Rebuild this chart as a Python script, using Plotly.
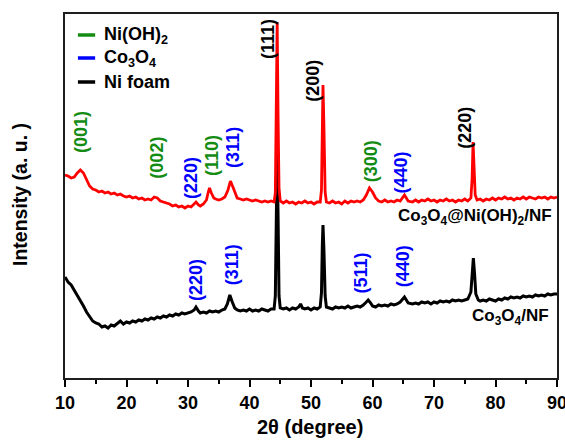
import plotly.graph_objects as go

# ---------------- data (intensity in arbitrary units) ----------------
red_x = [10.0, 10.5, 11.0, 11.5, 12.0, 12.5, 13.0, 13.5, 14.0, 14.5,
         15.0, 15.5, 16.0, 16.5, 17.0, 17.5, 18.0, 18.5, 19.0, 19.5,
         20.0, 20.5, 21.0, 21.5, 22.0, 22.5, 23.0, 23.5, 24.0, 24.5,
         25.0, 25.5, 26.0, 26.5, 27.0, 27.5, 28.0, 28.5, 29.0, 29.5,
         30.0, 30.5, 31.0, 31.3, 31.7, 32.0, 32.5, 33.0, 33.3, 33.5,
         33.8, 34.2, 34.5, 35.0, 35.5, 36.0, 36.5, 36.9, 37.3, 37.8,
         38.0, 38.5, 39.0, 39.5, 40.0, 40.5, 41.0, 41.5, 42.0, 42.5,
         43.0, 43.5, 44.0, 44.2, 44.35, 44.5, 44.65, 44.8,
         45.0, 45.5, 46.0, 46.5, 47.0, 47.5, 48.0, 48.5, 49.0, 49.5,
         50.0, 50.5, 51.0, 51.5, 51.7, 51.85, 51.95, 52.1, 52.3, 52.5,
         53.0, 53.5, 54.0, 54.5, 55.0, 55.5, 56.0, 56.5, 57.0, 57.5,
         58.0, 58.5, 59.0, 59.5, 60.0, 60.5, 61.0, 61.5, 62.0, 62.5,
         63.0, 63.5, 64.0, 64.5, 65.2, 65.8, 66.5, 67.0, 67.5, 68.0,
         68.5, 69.0, 69.5, 70.0, 70.5, 71.0, 71.5, 72.0, 72.5, 73.0,
         73.5, 74.0, 74.5, 75.0, 75.5, 76.0, 76.2, 76.35, 76.5, 76.7,
         77.0, 77.5, 78.0, 78.5, 79.0, 79.5, 80.0, 80.5, 81.0, 81.5,
         82.0, 82.5, 83.0, 83.5, 84.0, 84.5, 85.0, 85.5, 86.0, 86.5,
         87.0, 87.5, 88.0, 88.5, 89.0, 89.5, 90.0]
red_y = [203, 202, 200, 201, 205, 208, 205, 198, 192, 189,
         188, 186, 187, 185, 186, 184, 185, 183, 184, 182,
         181, 182, 180, 181, 179, 180, 178, 179, 178, 181,
         180, 177, 176, 175, 174, 172, 173, 171, 172, 170,
         172, 171, 174, 176, 173, 172, 174, 178, 186, 190,
         185, 180, 179, 178, 179, 181, 188, 197, 191, 182,
         180, 179, 178, 179, 178, 177, 178, 177, 176, 177,
         176, 177, 176, 185, 260, 356, 260, 190,
         177, 175, 177, 175, 176, 174, 176, 175, 177, 175,
         176, 174, 176, 176, 188, 262, 293, 252, 186, 176,
         175, 177, 175, 176, 174, 177, 175, 177, 176, 177,
         176, 178, 183, 190, 186, 180, 177, 176, 178, 176,
         177, 176, 178, 177, 183, 177, 176, 178, 176, 178,
         177, 179, 177, 178, 176, 178, 177, 179, 177, 178,
         176, 178, 177, 179, 177, 180, 200, 236, 214, 183,
         178, 179, 177, 179, 178, 180, 178, 180, 179, 181,
         179, 180, 178, 180, 179, 181, 179, 181, 180, 179,
         181, 180, 181, 179, 181, 180, 181]

black_x = [10.0, 10.5, 11.0, 11.5, 12.0, 12.5, 13.0, 13.5, 14.0, 14.5,
           15.0, 15.5, 16.0, 16.5, 17.0, 17.5, 18.0, 18.5, 19.0, 19.5,
           20.0, 20.5, 21.0, 21.5, 22.0, 22.5, 23.0, 23.5, 24.0, 24.5,
           25.0, 25.5, 26.0, 26.5, 27.0, 27.5, 28.0, 28.5, 29.0, 29.5,
           30.0, 30.5, 31.0, 31.3, 31.7, 32.0, 32.5, 33.0, 33.5, 34.0,
           34.5, 35.0, 35.5, 36.0, 36.4, 36.8, 37.2, 37.6, 38.0, 38.5,
           39.0, 39.5, 40.0, 40.5, 41.0, 41.5, 42.0, 42.5, 43.0, 43.5,
           44.0, 44.2, 44.35, 44.5, 44.65, 44.8,
           45.0, 45.5, 46.0, 46.5, 47.0, 47.5, 48.0, 48.3, 48.6, 49.0,
           49.5, 50.0, 50.5, 51.0, 51.5, 51.7, 51.85, 51.95, 52.1, 52.3,
           52.5, 53.0, 53.5, 54.0, 54.5, 55.0, 55.5, 56.0, 56.5, 57.0,
           57.5, 58.0, 58.5, 59.0, 59.3, 59.7, 60.0, 60.5, 61.0, 61.5,
           62.0, 62.5, 63.0, 63.5, 64.0, 64.5, 65.2, 65.8, 66.5, 67.0,
           67.5, 68.0, 68.5, 69.0, 69.5, 70.0, 70.5, 71.0, 71.5, 72.0,
           72.5, 73.0, 73.5, 74.0, 74.5, 75.0, 75.5, 76.0, 76.2, 76.4,
           76.6, 76.8, 77.2, 77.5, 78.0, 78.5, 79.0, 79.5, 80.0, 80.5,
           81.0, 81.5, 82.0, 82.5, 83.0, 83.5, 84.0, 84.5, 85.0, 85.5,
           86.0, 86.5, 87.0, 87.5, 88.0, 88.5, 89.0, 89.5, 90.0]
black_y = [101, 96, 93, 88, 83, 77, 72, 66, 61, 57,
           55, 54, 51, 52, 50, 53, 52, 55, 57, 54,
           56, 55, 57, 56, 58, 57, 59, 58, 60, 59,
           61, 60, 62, 61, 63, 62, 64, 63, 65, 64,
           65, 66, 68, 71, 67, 65, 66, 65, 67, 66,
           67, 66, 68, 69, 74, 83, 76, 70, 68, 67,
           68, 67, 69, 67, 68, 67, 69, 68, 67, 69,
           69, 82, 165, 228, 160, 82,
           70, 69, 70, 68, 70, 69, 71, 74, 70, 69,
           70, 68, 70, 69, 71, 85, 135, 153, 128, 82,
           71, 70, 69, 71, 70, 71, 70, 72, 70, 71,
           72, 71, 73, 76, 78, 75, 72, 71, 73, 72,
           73, 72, 74, 73, 74, 76, 81, 75, 74, 75,
           74, 76, 75, 76, 74, 76, 75, 77, 76, 77,
           76, 78, 77, 78, 77, 78, 79, 86, 106, 120,
           104, 84, 78, 77, 78, 77, 79, 78, 77, 79,
           78, 80, 79, 81, 80, 81, 80, 82, 81, 82,
           81, 83, 82, 83, 82, 84, 83, 84, 84]

x_tick_vals = [10, 20, 30, 40, 50, 60, 70, 80, 90]

# peak labels: text, colour key, 2theta centre, intensity centre
peak_texts = ["(001)", "(002)", "(220)", "(110)", "(311)", "(111)", "(200)",
              "(300)", "(440)", "(220)",
              "(220)", "(311)", "(511)", "(440)"]
peak_colors = ["g", "g", "b", "g", "b", "k", "k", "g", "b", "k",
               "b", "b", "b", "b"]
peak_x = [12.6, 24.9, 30.5, 33.9, 37.3, 43.0, 50.3, 59.8, 64.7, 75.0,
          31.3, 37.2, 58.2, 65.0]
peak_y = [246, 220, 200, 223, 231, 339, 297, 217, 206, 250,
          98, 113, 105, 112]

legend_names = ["Ni(OH)<sub>2</sub>", "Co<sub>3</sub>O<sub>4</sub>", "Ni foam"]
legend_colors = ["g", "b", "k"]

COL = {"g": "rgb(20,140,20)", "b": "rgb(0,0,255)", "k": "rgb(0,0,0)"}
FONT = "Liberation Sans, Arial, sans-serif"

# plot-area geometry in page pixels (used to place titles)
W, H = 565, 440
L, R, T, B = 65, 557, 14, 378


def paper_x(px):
    return (px - L) / (R - L)


def paper_y(py):
    return (B - py) / (B - T)


fig = go.Figure()
fig.add_trace(go.Scatter(x=black_x, y=black_y, mode="lines",
                         line=dict(color="black", width=3), showlegend=False,
                         hoverinfo="skip"))
fig.add_trace(go.Scatter(x=red_x, y=red_y, mode="lines",
                         line=dict(color="rgb(255,0,0)", width=2.8), showlegend=False,
                         hoverinfo="skip"))

annotations = []
for t, c, px, py in zip(peak_texts, peak_colors, peak_x, peak_y):
    annotations.append(dict(x=px, y=py, xref="x", yref="y", text=t, textangle=-90,
                            showarrow=False, xanchor="center", yanchor="middle",
                            font=dict(family=FONT, size=18, color=COL[c], weight="bold")))

# legend (drawn manually)
leg_y = [343, 320, 296]
shapes = []
for name, c, ly in zip(legend_names, legend_colors, leg_y):
    shapes.append(dict(type="line", xref="x", yref="y", x0=12.1, x1=14.9, y0=ly, y1=ly,
                       line=dict(color=COL[c], width=3.5)))
    annotations.append(dict(x=16.0, y=ly, xref="x", yref="y", text=name, showarrow=False,
                            xanchor="left", yanchor="middle",
                            font=dict(family=FONT, size=18, color="black", weight="bold")))

# curve names
annotations.append(dict(x=89.5, y=161, xref="x", yref="y",
                        text="Co<sub>3</sub>O<sub>4</sub>@Ni(OH)<sub>2</sub>/NF",
                        showarrow=False, xanchor="right", yanchor="middle",
                        font=dict(family=FONT, size=17, color="black", weight="bold")))
annotations.append(dict(x=89.1, y=61, xref="x", yref="y",
                        text="Co<sub>3</sub>O<sub>4</sub>/NF",
                        showarrow=False, xanchor="right", yanchor="middle",
                        font=dict(family=FONT, size=17, color="black", weight="bold")))

# axis titles
annotations.append(dict(x=paper_x(310), y=paper_y(427), xref="paper", yref="paper",
                        text="2θ (degree)", showarrow=False, xanchor="center", yanchor="middle",
                        font=dict(family=FONT, size=20, color="black", weight="bold")))
annotations.append(dict(x=paper_x(20), y=paper_y(195), xref="paper", yref="paper",
                        text="Intensity (a. u. )", textangle=-90, showarrow=False,
                        xanchor="center", yanchor="middle",
                        font=dict(family=FONT, size=19.5, color="black", weight="bold")))

fig.update_layout(
    width=W, height=H,
    margin=dict(l=L, r=W - R, t=T, b=H - B, autoexpand=False),
    paper_bgcolor="white", plot_bgcolor="white",
    showlegend=False,
    annotations=annotations, shapes=shapes,
    xaxis=dict(range=[10, 90], tickvals=x_tick_vals, ticks="outside", ticklen=7,
               tickwidth=2, tickcolor="black", showline=True, linecolor="rgb(30,30,30)",
               linewidth=2, mirror=True, showgrid=False, zeroline=False,
               ticklabeloverflow="allow",
               tickfont=dict(family=FONT, size=18, color="black", weight="bold"),
               minor=dict(dtick=5, ticks="outside", ticklen=4, tickwidth=2, tickcolor="black")),
    yaxis=dict(range=[0, 364], showticklabels=False, ticks="", showline=True,
               linecolor="rgb(30,30,30)", linewidth=2, mirror=True, showgrid=False,
               zeroline=False),
)

fig.write_html("out.html", config={"displayModeBar": False},
               post_script="document.body.style.margin='0px';"
                           "document.body.style.overflow='hidden';")
